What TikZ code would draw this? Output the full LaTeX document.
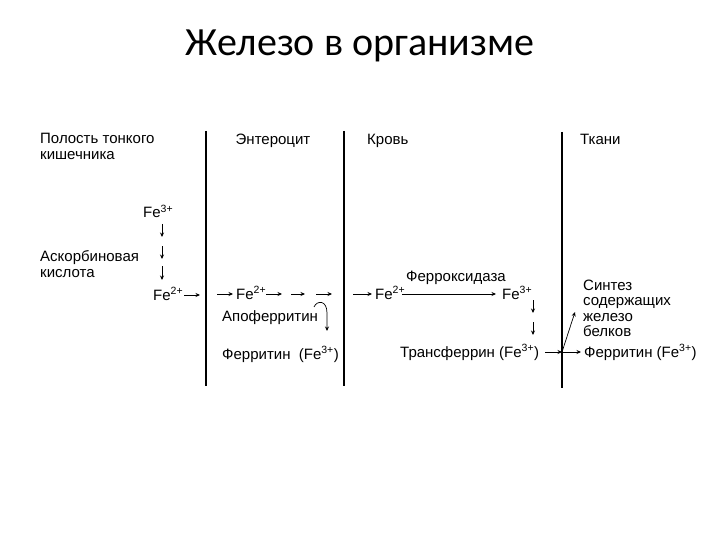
\documentclass[tikz,border=0pt]{standalone}
\usepackage{fontspec}
\setmainfont{Liberation Sans}
\newfontfamily\titlefont{Carlito}
\usetikzlibrary{arrows.meta}
\tikzset{
  lbl/.style={inner sep=0pt, anchor=base west, font=\fontsize{15}{18}\selectfont},
  wall/.style={line width=1.7pt},
  arr/.style={line width=0.7pt, -{Stealth[length=4.5pt,width=4pt]}},
}
\newcommand{\FeS}[1]{Fe\textsuperscript{#1}}
\begin{document}
\begin{tikzpicture}[x=1pt,y=1pt]
\useasboundingbox (0,0) rectangle (720,-540);
\node[font=\titlefont\fontsize{40}{48}\selectfont] (title) at (360,-46) {Железо в организме};
% walls
\coordinate (w1t) at (206,-131); \coordinate (w1b) at (206,-386);
\coordinate (w2t) at (344,-131); \coordinate (w2b) at (344,-386);
\coordinate (w3t) at (562,-132); \coordinate (w3b) at (562,-388);
\draw[wall] (w1t) -- (w1b);
\draw[wall] (w2t) -- (w2b);
\draw[wall] (w3t) -- (w3b);
% headers
\node[lbl] (pol1) at (40,-144) {Полость тонкого};
\node[lbl] (pol2) at (40,-160) {кишечника};
\node[lbl, anchor=base] (ent) at (273,-145) {Энтероцит};
\node[lbl] (krov) at (367,-145) {Кровь};
\node[lbl] (tkani) at (580,-145) {Ткани};
% lumen
\node[lbl] (fe3a) at (143,-218) {\FeS{3+}};
\node[lbl] (ask1) at (40,-261) {Аскорбиновая};
\node[lbl] (ask2) at (40,-277) {кислота};
\node[lbl] (fe2a) at (153,-300) {\FeS{2+}};
\coordinate (d1a) at (162,-224); \coordinate (d1b) at (162,-237);
\coordinate (d2a) at (162,-246); \coordinate (d2b) at (162,-259);
\coordinate (d3a) at (162,-266); \coordinate (d3b) at (162,-280);
\draw[arr] (d1a) -- (d1b);
\draw[arr] (d2a) -- (d2b);
\draw[arr] (d3a) -- (d3b);
\coordinate (a1s) at (184,-295); \coordinate (a1e) at (200,-295);
\draw[arr] (a1s) -- (a1e);
% enterocyte
\coordinate (e0) at (217,-294);
\node[lbl] (fe2b) at (236,-299) {\FeS{2+}};
\draw[arr] (e0) -- (233,-294);
\coordinate (e1s) at (266,-294); \coordinate (e1e) at (282,-294);
\coordinate (e2s) at (291,-294); \coordinate (e2e) at (305,-294);
\coordinate (e3s) at (316,-294); \coordinate (e3e) at (332,-294);
\draw[arr] (e1s) -- (e1e);
\draw[arr] (e2s) -- (e2e);
\draw[arr] (e3s) -- (e3e);
\node[lbl] (apo) at (222,-321) {Апоферритин};
\coordinate (c0) at (314,-307); \coordinate (c1) at (327,-331);
\draw[arr] (c0) .. controls (317,-300) and (327,-300) .. (327,-313) -- (c1);
\node[lbl] (fer1) at (222,-359) {Ферритин\ \ (\FeS{3+})};
% blood
\coordinate (b0) at (353,-294);
\node[lbl] (fe2c) at (375,-299) {\FeS{2+}};
\node[lbl] (fe3c) at (502,-299) {\FeS{3+}};
\draw[arr] (b0) -- (372,-294);
\coordinate (fx0) at (402,-294); \coordinate (fx1) at (496,-294);
\draw[arr] (fx0) -- (fx1);
\node[lbl, anchor=base] (ferox) at (456,-281) {Ферроксидаза};
\coordinate (v1s) at (533,-300); \coordinate (v1e) at (533,-313);
\coordinate (v2s) at (533,-322); \coordinate (v2e) at (533,-335);
\draw[arr] (v1s) -- (v1e);
\draw[arr] (v2s) -- (v2e);
\node[lbl] (trans) at (400,-357) {Трансферрин (\FeS{3+})};
\coordinate (J) at (562,-352);
\coordinate (t0) at (545,-352);
\draw[arr] (t0) -- (J);
% tissues
\node[lbl] (fer2) at (584,-357) {Ферритин (\FeS{3+})};
\coordinate (syn) at (575,-312);
\coordinate (f0) at (581,-352);
\draw[arr] (J) -- (f0);
\draw[arr] (J) -- (syn);
\node[lbl] (s1) at (583,-290) {Синтез};
\node[lbl] (s2) at (583,-305) {содержащих};
\node[lbl] (s3) at (583,-321) {железо};
\node[lbl] (s4) at (583,-336) {белков};
\end{tikzpicture}
\end{document}
